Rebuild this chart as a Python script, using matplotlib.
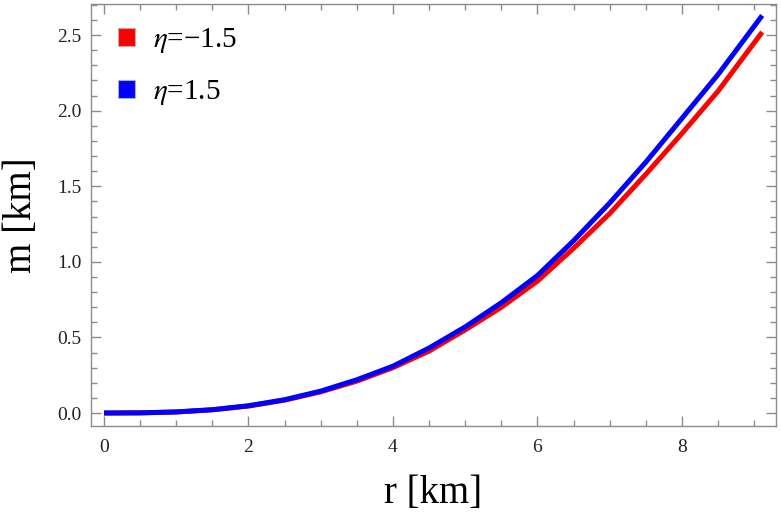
import matplotlib
matplotlib.use("Agg")
import matplotlib.pyplot as plt
from matplotlib.patches import Patch
from matplotlib.ticker import MultipleLocator, FormatStrFormatter

# values
r = [0, 0.5, 1, 1.5, 2, 2.5, 3, 3.5, 4, 4.5, 5, 5.5, 6, 6.5, 7, 7.5, 8, 8.5, 9.11]
m_neg = [0, 0.001, 0.007, 0.021, 0.046, 0.085, 0.140, 0.211, 0.30, 0.41, 0.55,
         0.70, 0.873, 1.09, 1.32, 1.58, 1.85, 2.13, 2.52]
m_pos = [0, 0.001, 0.007, 0.022, 0.048, 0.088, 0.145, 0.220, 0.31, 0.43, 0.57,
         0.73, 0.91, 1.14, 1.39, 1.66, 1.95, 2.24, 2.63]
labels = [r"$\eta$=−1.5", r"$\eta$=1.5"]
colors = ["#ff0000", "#0000ff"]

plt.rcParams['font.family'] = ['Liberation Serif', 'DejaVu Serif']
plt.rcParams['mathtext.fontset'] = 'stix'

fig = plt.figure(figsize=(7.81, 5.17), dpi=100)
ax = fig.add_axes([0.1165, 0.176, 0.877, 0.816])

ax.plot(r, m_neg, color=colors[0], lw=3.6, solid_joinstyle='round', solid_capstyle='butt')
ax.plot(r, m_pos, color=colors[1], lw=3.6, solid_joinstyle='round', solid_capstyle='butt')

ax.set_xlim(-0.18, 9.3)
ax.set_ylim(-0.086, 2.705)
ax.xaxis.set_major_locator(MultipleLocator(2))
ax.xaxis.set_minor_locator(MultipleLocator(0.5))
ax.yaxis.set_major_locator(MultipleLocator(0.5))
ax.yaxis.set_minor_locator(MultipleLocator(0.1))
ax.yaxis.set_major_formatter(FormatStrFormatter('%.1f'))

frame = '#8c8c8c'
for s in ax.spines.values():
    s.set_color(frame)
    s.set_linewidth(1.0)
ax.tick_params(which='both', direction='in', top=True, right=True,
               color=frame, width=1.0, labelsize=14, labelcolor='#222222')
ax.tick_params(axis='x', pad=9)
ax.tick_params(axis='y', pad=7)
ax.tick_params(which='major', length=7)
ax.tick_params(which='minor', length=4)

ax.set_xlabel("r [km]", fontsize=28, labelpad=14)
ax.set_ylabel("m [km]", fontsize=28, labelpad=12)

handles = [Patch(facecolor=c, edgecolor='#b0b0b0', linewidth=0.8) for c in colors]
ax.legend(handles, labels, loc='upper left', frameon=False, fontsize=21,
          handlelength=0.6, handleheight=0.6, handletextpad=0.6,
          labelspacing=0.8, borderpad=0, borderaxespad=0,
          bbox_to_anchor=(0.039, 0.948))

fig.savefig("out.png", dpi=100)
